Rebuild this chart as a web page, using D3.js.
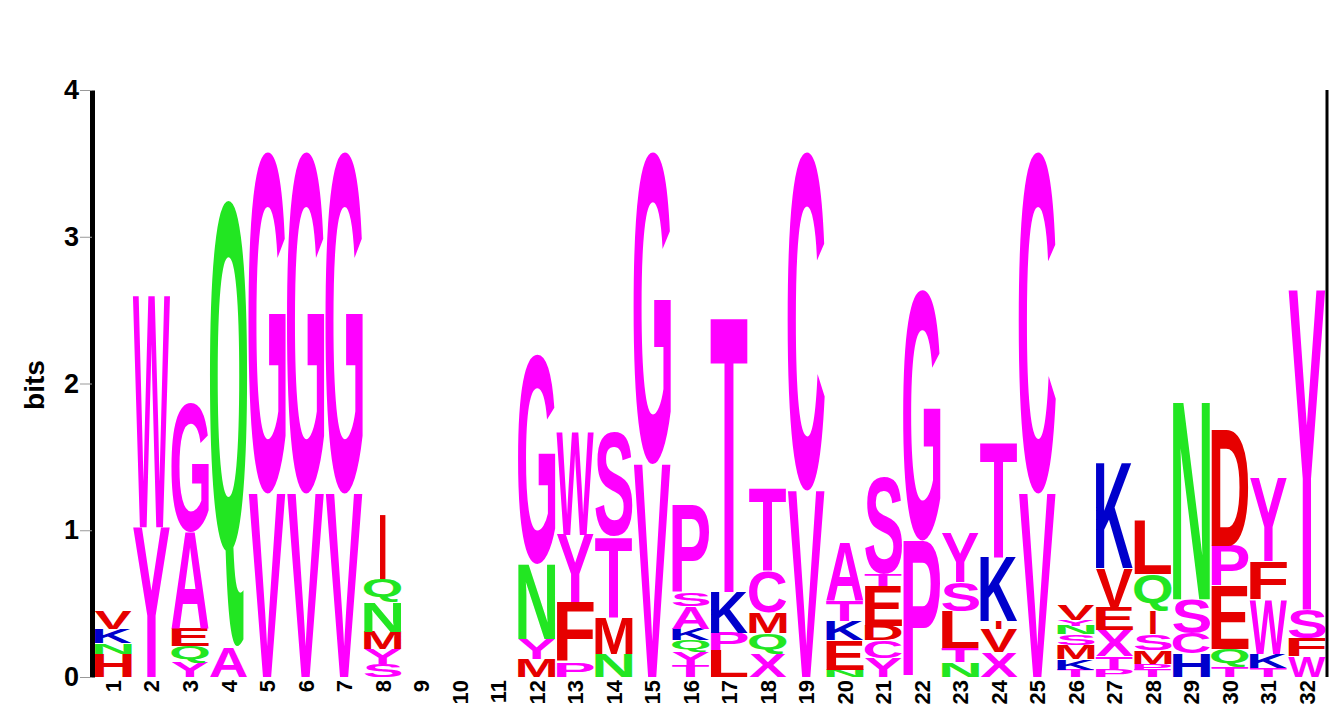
<!DOCTYPE html>
<html>
<head>
<meta charset="utf-8">
<script src="https://cdn.jsdelivr.net/npm/d3@7"></script>
<style>
  body { margin: 0; background: #fff; }
  svg { display: block; }
</style>
</head>
<body>
<div id="logo"></div>
<script>
// sequence logo, 32 positions, stacks listed bottom -> top
const positions = [1, 2, 3, 4, 5, 6, 7, 8, 9, 10, 11, 12, 13, 14, 15, 16,
                   17, 18, 19, 20, 21, 22, 23, 24, 25, 26, 27, 28, 29, 30, 31, 32];

const letters = [
  "HNKV", "YW", "YQEAG", "AQ", "VG", "VG", "VG", "SYMNQI",
  "", "", "", "MYNG", "PFYW", "NMTS", "VG", "TYQKASP",
  "LPKT", "XQMCT", "VC", "NEKTA", "YCDETS", "PG", "NTLSY", "XVIKT",
  "VC", "TKMSNYV", "PTXEVK", "TPMSIQL", "HCSN", "TQEPD", "TKWFY", "WFSY"
];

const bits = [
  [0.16, 0.07, 0.10, 0.12],
  [1.02, 1.58],
  [0.10, 0.11, 0.12, 0.66, 0.88],
  [0.20, 3.05],
  [1.25, 2.33],
  [1.25, 2.33],
  [1.25, 2.33],
  [0.09, 0.10, 0.12, 0.20, 0.16, 0.44],
  [], [], [],
  [0.12, 0.14, 0.51, 1.43],
  [0.10, 0.41, 0.46, 0.70],
  [0.16, 0.25, 0.55, 0.71],
  [1.45, 2.13],
  [0.08, 0.09, 0.08, 0.08, 0.15, 0.09, 0.60],
  [0.18, 0.12, 0.28, 1.89],
  [0.16, 0.14, 0.14, 0.28, 0.57],
  [1.27, 2.31],
  [0.05, 0.20, 0.13, 0.14, 0.40],
  [0.13, 0.12, 0.10, 0.27, 0.08, 0.66],
  [0.93, 1.71],
  [0.10, 0.10, 0.25, 0.20, 0.33],
  [0.17, 0.16, 0.05, 0.44, 0.79],
  [1.25, 2.33],
  [0.05, 0.07, 0.10, 0.07, 0.06, 0.04, 0.10],
  [0.05, 0.09, 0.18, 0.16, 0.26, 0.73],
  [0.05, 0.04, 0.09, 0.11, 0.16, 0.25, 0.37],
  [0.16, 0.14, 0.23, 1.36],
  [0.07, 0.12, 0.43, 0.27, 0.79],
  [0.06, 0.10, 0.37, 0.26, 0.57],
  [0.14, 0.12, 0.20, 2.18]
];

const yTicks = [0, 1, 2, 3, 4];

// colours
const magenta = "#ff00ff", green = "#22e622", red = "#e60000", blue = "#0000cc";
const colourOf = {
  W: magenta, Y: magenta, G: magenta, A: magenta, C: magenta, S: magenta,
  T: magenta, P: magenta, V: magenta, X: magenta,
  N: green, Q: green,
  F: red, M: red, L: red, I: red, E: red, D: red,
  K: blue, R: blue, H: blue
};
// small letters that are drawn red in the picture
const redAt = [[1, "H"], [1, "V"], [24, "V"], [26, "V"], [27, "V"]];

const width = 1336, height = 723;
const fontFam = "'Liberation Sans', Arial, Helvetica, sans-serif";

const svg = d3.select("#logo").append("svg")
  .attr("width", width)
  .attr("height", height);

const x = d3.scaleBand()
  .domain(positions)
  .range([94, 1326])
  .paddingInner(0.03)
  .paddingOuter(0.01);

const y = d3.scaleLinear()
  .domain([0, 4])
  .range([677, 90]);

// glyph ink boxes, measured once
const ctx = document.createElement("canvas").getContext("2d");
ctx.font = "bold 100px " + fontFam;
const glyphBox = {};
function box(ch) {
  if (!glyphBox[ch]) {
    const m = ctx.measureText(ch);
    glyphBox[ch] = {
      left: m.actualBoundingBoxLeft,
      asc: m.actualBoundingBoxAscent,
      w: m.actualBoundingBoxLeft + m.actualBoundingBoxRight,
      h: m.actualBoundingBoxAscent + m.actualBoundingBoxDescent
    };
  }
  return glyphBox[ch];
}

// flatten the stacks
const glyphs = [];
positions.forEach((p, i) => {
  let base = 0;
  letters[i].split("").forEach((ch, j) => {
    const v = bits[i][j];
    const isRed = redAt.some(r => r[0] === p && r[1] === ch);
    glyphs.push({pos: p, ch: ch, y0: base, y1: base + v, col: isRed ? red : colourOf[ch]});
    base += v;
  });
});

const stacks = svg.append("g").attr("class", "stacks");

stacks.selectAll("g.glyph")
  .data(glyphs)
  .join("g")
    .attr("class", "glyph")
    .attr("transform", d => {
      const b = box(d.ch);
      let bw = x.bandwidth(), x0 = x(d.pos);
      if (d.ch === "I") {          // the I stays a thin stroke
        x0 += bw * 0.42;
        bw *= 0.16;
      }
      const bh = y(d.y0) - y(d.y1);
      return `translate(${x0},${y(d.y1)}) scale(${bw / b.w},${bh / b.h})`;
    })
  .append("text")
    .attr("x", d => box(d.ch).left)
    .attr("y", d => box(d.ch).asc)
    .attr("font-family", fontFam)
    .attr("font-weight", "bold")
    .attr("font-size", 100)
    .attr("fill", d => d.col)
    .text(d => d.ch);

// left axis
const yAxis = svg.append("g")
  .attr("transform", "translate(92,0)")
  .call(d3.axisLeft(y).tickValues(yTicks).tickFormat(d3.format("d")).tickSize(12).tickSizeOuter(0));

yAxis.select(".domain")
  .attr("stroke", "#000")
  .attr("stroke-width", 5);
yAxis.selectAll(".tick line")
  .attr("stroke", "#999")
  .attr("stroke-width", 1);
yAxis.selectAll(".tick text")
  .attr("font-family", fontFam)
  .attr("font-weight", "bold")
  .attr("font-size", 27)
  .attr("fill", "#000")
  .attr("x", -13);

svg.append("text")
  .attr("transform", "translate(44,385) rotate(-90)")
  .attr("text-anchor", "middle")
  .attr("font-family", fontFam)
  .attr("font-weight", "bold")
  .attr("font-size", 28)
  .text("bits");

// right frame line
svg.append("line")
  .attr("x1", 1327).attr("x2", 1327)
  .attr("y1", y(4)).attr("y2", y(0))
  .attr("stroke", "#000")
  .attr("stroke-width", 3);

// position numbers, rotated
const xAxis = svg.append("g")
  .attr("transform", "translate(0,677)")
  .call(d3.axisBottom(x).tickSize(0).tickSizeOuter(0));

xAxis.select(".domain").remove();
xAxis.selectAll(".tick text")
  .attr("transform", "rotate(-90)")
  .attr("text-anchor", "end")
  .attr("x", -3)
  .attr("y", 0)
  .attr("dy", "0.36em")
  .attr("font-family", fontFam)
  .attr("font-weight", "bold")
  .attr("font-size", 22)
  .attr("fill", "#000");
</script>
</body>
</html>
